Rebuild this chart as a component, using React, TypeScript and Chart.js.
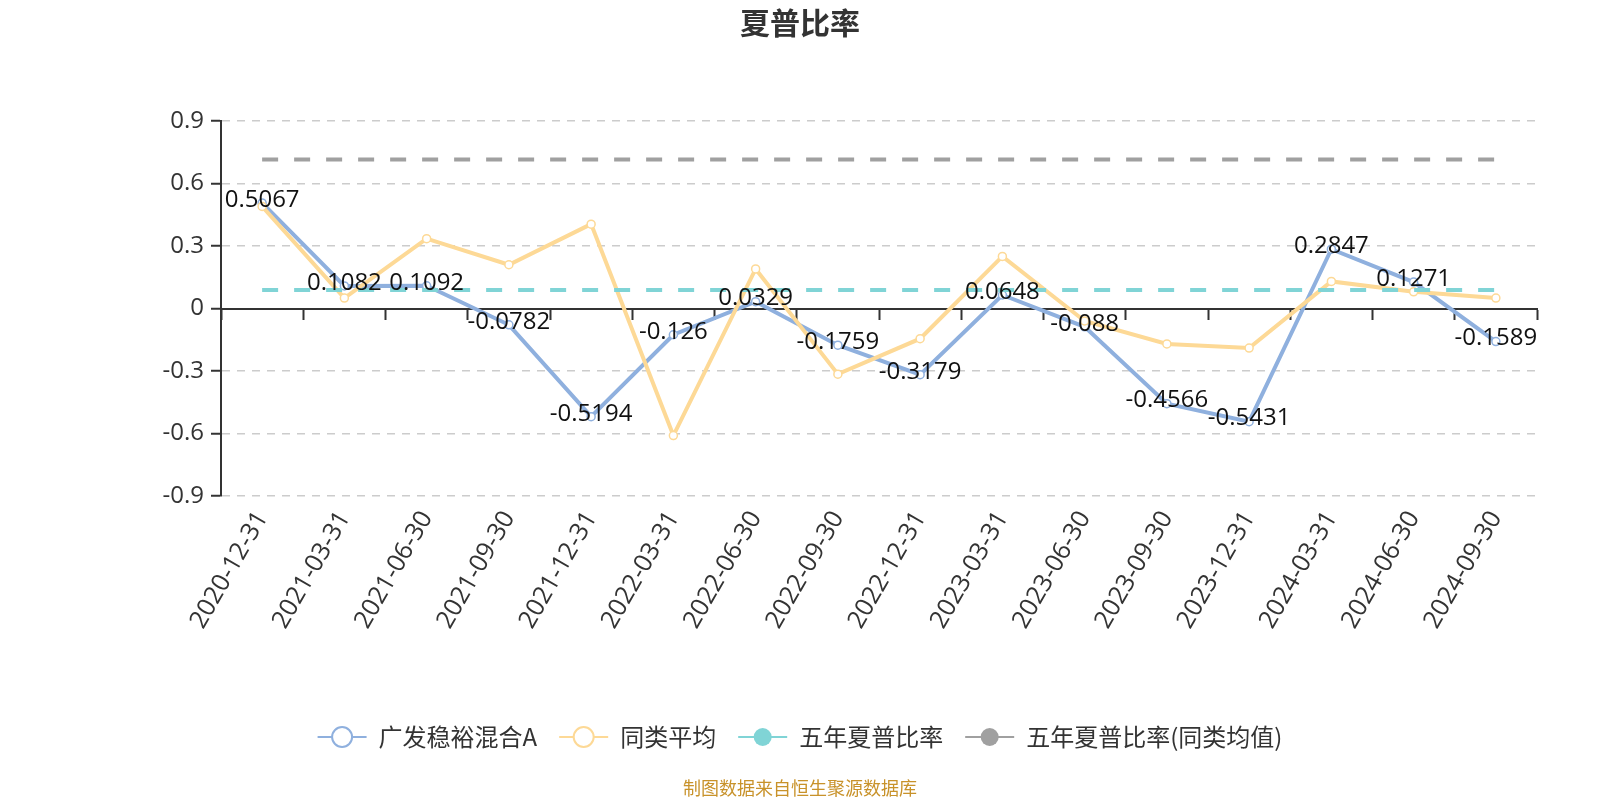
import React, { useEffect, useRef } from 'react';
import { Chart, registerables } from 'chart.js';

Chart.register(...registerables);

// ---- data ----
const categories = [
  '2020-12-31', '2021-03-31', '2021-06-30', '2021-09-30', '2021-12-31', '2022-03-31',
  '2022-06-30', '2022-09-30', '2022-12-31', '2023-03-31', '2023-06-30', '2023-09-30',
  '2023-12-31', '2024-03-31', '2024-06-30', '2024-09-30',
];
const fundValues = [
  0.5067, 0.1082, 0.1092, -0.0782, -0.5194, -0.126, 0.0329, -0.1759,
  -0.3179, 0.0648, -0.088, -0.4566, -0.5431, 0.2847, 0.1271, -0.1589,
];
const peerValues = [
  0.49, 0.05, 0.335, 0.21, 0.405, -0.61, 0.19, -0.315,
  -0.145, 0.25, -0.06, -0.17, -0.19, 0.13, 0.08, 0.05,
];
const fiveYearSharpe = 0.089;
const fiveYearSharpePeer = 0.715;
const yMin = -0.9;
const yMax = 0.9;
const yStep = 0.3;
const seriesNames = ['广发稳裕混合A', '同类平均', '五年夏普比率', '五年夏普比率(同类均值)'];
const titleText = '夏普比率';
const footerText = '制图数据来自恒生聚源数据库';

// ---- styles ----
const COLORS = {
  fund: '#8fb0de',
  peer: '#fdd996',
  five: '#80d4d6',
  fivePeer: '#a0a0a0',
  axis: '#333333',
  grid: '#cccccc',
  footer: '#c8922a',
};
const NUM_FONT = "'Open Sans', 'Noto Sans CJK SC', sans-serif";
const CJK_FONT = "'Noto Sans CJK SC', 'Noto Sans', sans-serif";

const legendItems = [
  { name: seriesNames[0], color: COLORS.fund, hollow: true },
  { name: seriesNames[1], color: COLORS.peer, hollow: true },
  { name: seriesNames[2], color: COLORS.five, hollow: false },
  { name: seriesNames[3], color: COLORS.fivePeer, hollow: false },
];

const valueLabelPlugin = {
  id: 'valueLabels',
  afterDatasetsDraw(chart: any) {
    const idx = chart.data.datasets.findIndex((d: any) => d.label === seriesNames[0]);
    const meta = chart.getDatasetMeta(idx);
    const ctx = chart.ctx;
    ctx.save();
    ctx.font = `24px ${NUM_FONT}`;
    ctx.fillStyle = '#111111';
    ctx.textAlign = 'center';
    ctx.textBaseline = 'middle';
    meta.data.forEach((pt: any, i: number) => {
      ctx.fillText(String(fundValues[i]), pt.x, pt.y - 3);
    });
    ctx.restore();
  },
};

const decorPlugin = {
  id: 'decor',
  afterDraw(chart: any) {
    const ctx = chart.ctx;
    ctx.save();
    // title
    ctx.font = `bold 30px ${CJK_FONT}`;
    ctx.fillStyle = '#333333';
    ctx.textAlign = 'center';
    ctx.textBaseline = 'middle';
    ctx.fillText(titleText, chart.width / 2, 23);

    // legend
    const iconW = 49;
    const gapIconText = 12;
    const gapItems = 22;
    const legendY = 737;
    ctx.font = `24px ${CJK_FONT}`;
    const widths = legendItems.map((it) => iconW + gapIconText + ctx.measureText(it.name).width);
    const total = widths.reduce((a, b) => a + b, 0) + gapItems * (legendItems.length - 1);
    let x = (chart.width - total) / 2;
    legendItems.forEach((it, i) => {
      ctx.strokeStyle = it.color;
      ctx.lineWidth = 2;
      ctx.setLineDash([]);
      ctx.beginPath();
      ctx.moveTo(x, legendY);
      ctx.lineTo(x + iconW, legendY);
      ctx.stroke();
      ctx.beginPath();
      if (it.hollow) {
        ctx.arc(x + iconW / 2, legendY, 10, 0, Math.PI * 2);
        ctx.fillStyle = '#ffffff';
        ctx.fill();
        ctx.lineWidth = 2;
        ctx.stroke();
      } else {
        ctx.arc(x + iconW / 2, legendY, 9, 0, Math.PI * 2);
        ctx.fillStyle = it.color;
        ctx.fill();
      }
      ctx.fillStyle = '#333333';
      ctx.textAlign = 'left';
      ctx.textBaseline = 'middle';
      ctx.fillText(it.name, x + iconW + gapIconText, legendY);
      x += widths[i] + gapItems;
    });

    // footer
    ctx.font = `18px ${CJK_FONT}`;
    ctx.fillStyle = COLORS.footer;
    ctx.textAlign = 'center';
    ctx.textBaseline = 'middle';
    ctx.fillText(footerText, chart.width / 2, 788);
    ctx.restore();
  },
};

export default function App() {
  const canvasRef = useRef<HTMLCanvasElement | null>(null);

  useEffect(() => {
    if (!canvasRef.current) return;
    const chart = new Chart(canvasRef.current, {
      type: 'line',
      data: {
        labels: categories,
        datasets: [
          {
            label: seriesNames[0],
            data: fundValues,
            borderColor: COLORS.fund,
            backgroundColor: '#ffffff',
            borderWidth: 4,
            pointRadius: 4,
            pointBorderWidth: 1.5,
            pointBackgroundColor: '#ffffff',
            pointBorderColor: COLORS.fund,
            tension: 0,
            order: 4,
          },
          {
            label: seriesNames[1],
            data: peerValues,
            borderColor: COLORS.peer,
            backgroundColor: '#ffffff',
            borderWidth: 4,
            pointRadius: 4,
            pointBorderWidth: 1.5,
            pointBackgroundColor: '#ffffff',
            pointBorderColor: COLORS.peer,
            tension: 0,
            order: 3,
          },
          {
            label: seriesNames[2],
            data: categories.map(() => fiveYearSharpe),
            borderColor: COLORS.five,
            borderWidth: 4,
            borderDash: [16, 16],
            pointRadius: 0,
            tension: 0,
            order: 2,
          },
          {
            label: seriesNames[3],
            data: categories.map(() => fiveYearSharpePeer),
            borderColor: COLORS.fivePeer,
            borderWidth: 4,
            borderDash: [16, 16],
            pointRadius: 0,
            tension: 0,
            order: 1,
          },
        ],
      },
      options: {
        responsive: false,
        animation: false,
        devicePixelRatio: 1,
        layout: { padding: { left: 0, right: 63, top: 121, bottom: 0 } },
        plugins: {
          legend: { display: false },
          tooltip: { enabled: false },
          title: { display: false },
        },
        scales: {
          x: {
            type: 'category',
            offset: true,
            grid: { display: false, drawTicks: false },
            border: { display: false },
            ticks: {
              autoSkip: false,
              minRotation: 60,
              maxRotation: 60,
              padding: 10,
              color: '#333333',
              font: { family: NUM_FONT, size: 25 },
            },
            afterFit: (s: any) => {
              s.height = 304;
            },
          },
          xZero: {
            type: 'category',
            axis: 'x',
            position: { y: 0 },
            offset: true,
            grid: {
              display: true,
              offset: true,
              drawOnChartArea: false,
              drawTicks: true,
              tickLength: 10,
              tickWidth: 2,
              tickColor: COLORS.axis,
              color: COLORS.axis,
            },
            border: { display: true, color: COLORS.axis, width: 2 },
            ticks: { display: false },
          },
          y: {
            type: 'linear',
            min: yMin,
            max: yMax,
            ticks: {
              stepSize: yStep,
              padding: 7,
              color: '#333333',
              font: { family: NUM_FONT, size: 24 },
              callback: (v: any) => {
                const n = Math.round(Number(v) * 10) / 10;
                return n === 0 ? '0' : String(n);
              },
            },
            grid: {
              color: COLORS.grid,
              lineWidth: 1.5,
              drawTicks: true,
              tickLength: 10,
              tickWidth: 2,
              tickColor: COLORS.axis,
            },
            border: { display: true, color: COLORS.axis, width: 2, dash: [8, 7] },
            afterFit: (s: any) => {
              s.width = 221;
            },
          },
        },
      } as any,
      plugins: [valueLabelPlugin, decorPlugin],
    });
    return () => chart.destroy();
  }, []);

  return (
    <div style={{ position: 'fixed', left: 0, top: 0, width: 1600, height: 800, background: '#ffffff' }}>
      <canvas ref={canvasRef} width={1600} height={800} style={{ width: 1600, height: 800, display: 'block' }} />
    </div>
  );
}
